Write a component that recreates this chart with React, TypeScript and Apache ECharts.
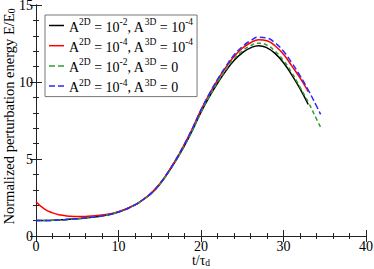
import React, { useEffect, useRef } from "react";
import * as echarts from "echarts";

// time samples (t / tau_d)
const tA = [0, 1, 2, 3, 4, 5, 6, 8, 10, 12, 13, 14, 15, 16, 17, 18, 19, 20, 21, 22, 23, 24, 25, 26, 27, 28, 29, 30, 31, 32, 33];
const tB = [0, 1, 2, 3, 4, 5, 6, 8, 10, 12, 13, 14, 15, 16, 17, 18, 19, 20, 21, 22, 23, 24, 25, 26, 27, 28, 29, 30, 31, 32, 33, 34, 34.5];

// A2D=1e-2, A3D=1e-4 (black)
const blackV = [1.0, 1.0, 1.02, 1.05, 1.08, 1.12, 1.17, 1.3, 1.56, 2.02, 2.37, 2.78, 3.36, 4.1, 4.94, 5.87, 6.91, 8.04, 9.03, 9.92, 10.71, 11.4, 11.89, 12.22, 12.36, 12.22, 11.84, 11.25, 10.46, 9.57, 8.54];
// A2D=1e-4, A3D=1e-4 (red)
const redV = [2.22, 1.76, 1.5, 1.36, 1.29, 1.26, 1.27, 1.36, 1.58, 2.02, 2.37, 2.8, 3.39, 4.15, 5.0, 5.97, 7.03, 8.19, 9.2, 10.12, 10.94, 11.65, 12.19, 12.55, 12.75, 12.68, 12.34, 11.8, 11.05, 10.27, 9.38];
// A2D=1e-2, A3D=0 (green dashed)
const greenV = [1.0, 1.0, 1.02, 1.05, 1.08, 1.12, 1.17, 1.3, 1.56, 2.02, 2.37, 2.78, 3.36, 4.1, 4.94, 5.87, 6.91, 8.04, 9.06, 9.97, 10.78, 11.5, 12.01, 12.36, 12.52, 12.39, 11.99, 11.4, 10.61, 9.67, 8.69, 7.6, 7.06];
// A2D=1e-4, A3D=0 (blue dashed)
const blueV = [1.0, 1.0, 1.02, 1.05, 1.08, 1.12, 1.17, 1.3, 1.56, 2.02, 2.37, 2.8, 3.39, 4.15, 5.0, 5.97, 7.03, 8.19, 9.23, 10.17, 11.0, 11.75, 12.29, 12.68, 12.91, 12.85, 12.53, 11.99, 11.25, 10.41, 9.48, 8.44, 7.9];

const names = ["b", "r", "g", "u"];
const legendLabels = [
  "{m|A}{s|2D}{m| = 10}{s|-2}{m|, A}{s|3D}{m| = 10}{s|-4}",
  "{m|A}{s|2D}{m| = 10}{s|-4}{m|, A}{s|3D}{m| = 10}{s|-4}",
  "{m|A}{s|2D}{m| = 10}{s|-2}{m|, A}{s|3D}{m| = 0}",
  "{m|A}{s|2D}{m| = 10}{s|-4}{m|, A}{s|3D}{m| = 0}",
];

const xTicks = [0, 40, 10];
const yTicks = [0, 15, 5];

const serif = "'Liberation Serif', 'DejaVu Serif', serif";
const solidIcon = "path://M0,0H15V1.5H0Z";
const dashIcon = "path://M0,0H6V1.5H0Z M9,0H15V1.5H9Z";

function pairs(t: number[], v: number[]) {
  return v.map((y, i) => [t[i], y]);
}

export default function App() {
  const ref = useRef<HTMLDivElement>(null);
  useEffect(() => {
    if (!ref.current) return;
    const chart = echarts.init(ref.current, null, { renderer: "svg" });
    const ink = "#222";
    const axisLine = { show: true, lineStyle: { color: ink, width: 1 } };
    const baseX = {
      type: "value" as const,
      min: xTicks[0],
      max: xTicks[1],
      interval: xTicks[2],
      splitLine: { show: false },
      axisLine,
      axisTick: { inside: true, length: 6, lineStyle: { color: ink } },
      minorTick: { show: true, splitNumber: 5, length: 3, lineStyle: { color: ink } },
    };
    const baseY = {
      type: "value" as const,
      min: yTicks[0],
      max: yTicks[1],
      interval: yTicks[2],
      splitLine: { show: false },
      axisLine,
      axisTick: { inside: true, length: 6, lineStyle: { color: ink } },
      minorTick: { show: true, splitNumber: 5, length: 3, lineStyle: { color: ink } },
    };
    const rich = {
      m: { fontSize: 14, fontFamily: serif, color: "#000", lineHeight: 17, verticalAlign: "bottom" },
      s: { fontSize: 9.5, fontFamily: serif, color: "#000", lineHeight: 17, verticalAlign: "top", padding: [0, 0, 6, 0] },
    };
    const mk = (name: string, data: number[][], color: string, type: any, width: number) => ({
      name,
      type: "line",
      data,
      smooth: true,
      symbol: "none",
      xAxisIndex: 0,
      yAxisIndex: 0,
      lineStyle: { color, type, width },
      itemStyle: { color },
    });
    chart.setOption({
      animation: false,
      grid: { left: 36, right: 8, top: 5, bottom: 33, outerBoundsMode: "none", containLabel: false },
      xAxis: [
        {
          ...baseX,
          position: "bottom",
          name: "{a|t/τ}{b|d}",
          nameLocation: "middle",
          nameGap: 17,
          nameMoveOverlap: false,
          nameTextStyle: {
            rich: {
              a: { fontSize: 14, fontFamily: serif, color: "#000", verticalAlign: "top", lineHeight: 15 },
              b: { fontSize: 9.5, fontFamily: serif, color: "#000", verticalAlign: "bottom", lineHeight: 15, padding: [7, 0, 0, 0] },
            },
          },
          axisLabel: { fontSize: 14, fontFamily: serif, color: "#000", margin: 3, showMinLabel: true, showMaxLabel: true },
        },
        { ...baseX, position: "top", axisLabel: { show: false } },
      ],
      yAxis: [
        {
          ...baseY,
          position: "left",
          name: "{a|Normalized perturbation energy E/E}{b|0}",
          nameLocation: "middle",
          nameGap: 19,
          nameMoveOverlap: false,
          nameRotate: 90,
          nameTextStyle: {
            padding: [0, 0, 0, 8],
            rich: {
              a: { fontSize: 14.5, fontFamily: serif, color: "#000", verticalAlign: "top", lineHeight: 16 },
              b: { fontSize: 9.5, fontFamily: serif, color: "#000", verticalAlign: "bottom", lineHeight: 16, padding: [6, 0, 0, 0] },
            },
          },
          axisLabel: { fontSize: 14, fontFamily: serif, color: "#000", margin: 3, showMinLabel: true, showMaxLabel: true },
        },
        { ...baseY, position: "right", axisLabel: { show: false } },
      ],
      legend: {
        orient: "vertical",
        left: 45,
        top: 15,
        padding: [2, 4, 2, 4],
        itemGap: 3.2,
        itemWidth: 15,
        itemHeight: 10,
        borderColor: "#777",
        borderWidth: 1,
        data: [
          { name: "b", icon: solidIcon },
          { name: "r", icon: solidIcon },
          { name: "g", icon: dashIcon },
          { name: "u", icon: dashIcon },
        ],
        formatter: (n: string) => legendLabels[names.indexOf(n)],
        textStyle: { rich },
      },
      series: [
        mk("b", pairs(tA, blackV), "#000000", "solid", 1.5),
        mk("r", pairs(tA, redV), "#ff0000", "solid", 1.5),
        mk("g", pairs(tB, greenV), "#2ca02c", [4, 3], 1.5),
        mk("u", pairs(tB, blueV), "#2a2aff", [6, 3], 1.5),
      ],
    });
    return () => chart.dispose();
  }, []);
  return <div ref={ref} style={{ width: 374, height: 269, position: "absolute", left: 0, top: 0 }} />;
}
